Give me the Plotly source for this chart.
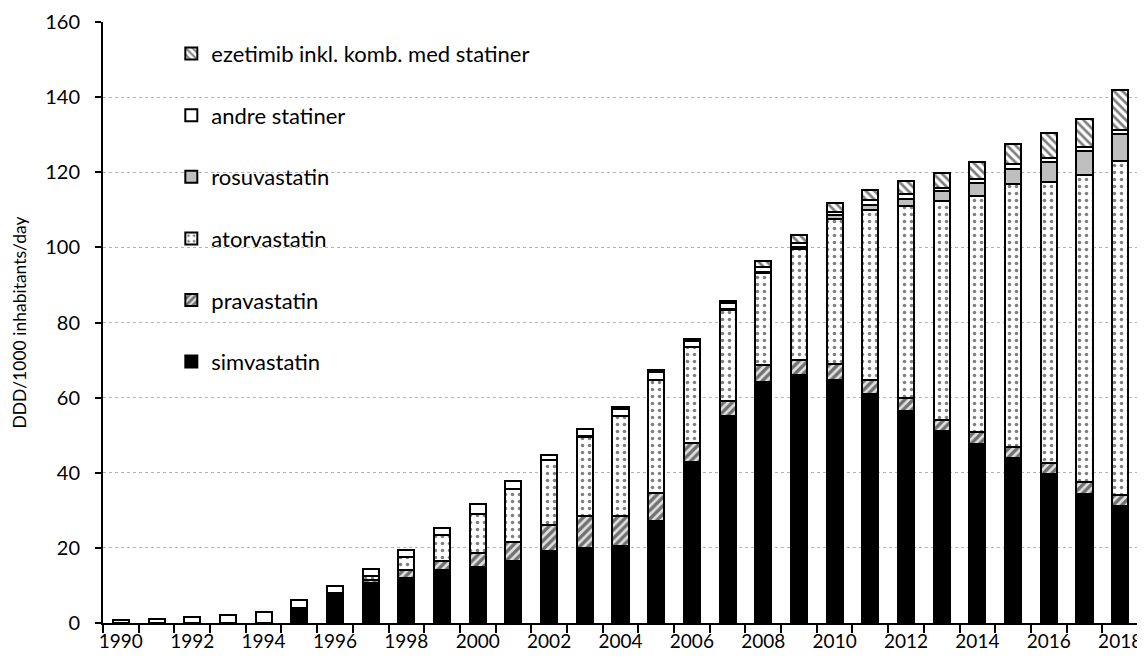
import plotly.graph_objects as go

years = list(range(1990, 2019))

simvastatin = [0, 0, 0, 0, 0, 4.1, 7.9, 10.6, 12.1, 14.0, 15.0, 16.6, 19.3, 20.0, 20.4, 27.1,
               42.8, 55.2, 64.2, 65.9, 64.8, 60.9, 56.4, 51.1, 47.7, 43.8, 39.6, 34.4, 31.1]
pravastatin = [0, 0, 0, 0, 0, 0, 0, 0.9, 2.0, 2.4, 3.7, 4.9, 6.9, 8.6, 8.2, 7.5,
               5.1, 4.0, 4.4, 4.0, 4.2, 3.7, 3.6, 3.0, 3.1, 3.0, 3.1, 3.1, 2.9]
atorvastatin = [0, 0, 0, 0, 0, 0, 0, 1.0, 3.6, 7.1, 10.2, 14.2, 17.3, 21.0, 26.4, 30.1,
                25.5, 24.2, 24.6, 29.7, 38.6, 45.4, 50.9, 58.2, 62.9, 70.2, 74.7, 81.7, 88.9]
rosuvastatin = [0, 0, 0, 0, 0, 0, 0, 0, 0, 0, 0, 0, 0, 0.1, 0.1, 0.1,
                0.1, 0.2, 0.3, 0.4, 1.0, 1.3, 2.0, 2.6, 3.5, 3.9, 5.2, 6.5, 7.4]
andre_statiner = [0.7, 1.15, 1.7, 2.2, 2.9, 2.1, 1.9, 2.0, 1.7, 1.9, 2.8, 2.0, 1.1, 1.9, 2.0, 2.0,
                  1.6, 1.6, 1.2, 1.2, 0.9, 1.2, 1.2, 1.0, 1.0, 1.2, 1.2, 1.0, 1.0]
ezetimib = [0, 0, 0, 0, 0, 0, 0, 0, 0, 0, 0, 0, 0, 0.1, 0.3, 0.6,
            0.5, 0.6, 1.6, 2.1, 2.4, 2.9, 3.6, 4.0, 4.5, 5.4, 6.7, 7.6, 10.6]

tick_years = list(range(1990, 2019, 2))
y_ticks = list(range(0, 161, 20))

FONT = "Lato"
line = dict(color="black", width=2)

series = [
    ("simvastatin", simvastatin, dict(color="black", line=line)),
    ("pravastatin", pravastatin, dict(color="white", line=line,
        pattern=dict(shape="/", fgcolor="black", bgcolor="#e0e0e0", size=6, solidity=0.55, fillmode="overlay"))),
    ("atorvastatin", atorvastatin, dict(color="white", line=line,
        pattern=dict(shape=".", fgcolor="black", bgcolor="white", size=7, solidity=0.2, fillmode="overlay"))),
    ("rosuvastatin", rosuvastatin, dict(color="#bfbfbf", line=line)),
    ("andre statiner", andre_statiner, dict(color="white", line=line)),
    ("ezetimib inkl. komb. med statiner", ezetimib, dict(color="white", line=line,
        pattern=dict(shape="\\", fgcolor="black", bgcolor="white", size=6, solidity=0.45, fillmode="overlay"))),
]

fig = go.Figure()
n = len(series)
for i, (name, vals, marker) in enumerate(series):
    fig.add_trace(go.Bar(x=years, y=vals, name=name, marker=marker,
                         legendgroup=f"g{i}", legendrank=n - i))

fig.update_layout(
    barmode="stack",
    bargap=0.55,
    width=1137, height=648,
    margin=dict(l=95, r=7, t=14, b=33),
    plot_bgcolor="white", paper_bgcolor="white",
    font=dict(family=FONT, size=20, color="black"),
    legend=dict(
        x=0.066, y=0.982, xanchor="left", yanchor="top",
        traceorder="grouped", tracegroupgap=30,
        bgcolor="rgba(0,0,0,0)", font=dict(family=FONT, size=22, color="black"),
        itemwidth=30,
    ),
    showlegend=True,
)

fig.update_xaxes(
    range=[1989.5, 2018.5],
    tickvals=tick_years, ticktext=[str(y) for y in tick_years],
    ticks="", showgrid=False, zeroline=False,
    showline=True, linecolor="black", linewidth=2,
    minor=dict(tickvals=[y + 0.5 for y in range(1989, 2019)], ticks="outside",
               ticklen=8, tickwidth=2, tickcolor="black", showgrid=False),
    tickfont=dict(family=FONT, size=19),
    automargin=False,
)
fig.update_yaxes(
    range=[0, 160], tickvals=y_ticks,
    ticks="outside", ticklen=6, tickwidth=2, tickcolor="black",
    showline=True, linecolor="black", linewidth=2,
    showgrid=True, gridcolor="#b4b4b4", gridwidth=1, griddash="dot",
    zeroline=False, ticklabelstandoff=11,
    tickfont=dict(family=FONT, size=20),
    title=dict(text="DDD/1000 inhabitants/day", font=dict(family=FONT, size=17.5), standoff=14),
    automargin=False,
)

fig.write_html("out.html")
